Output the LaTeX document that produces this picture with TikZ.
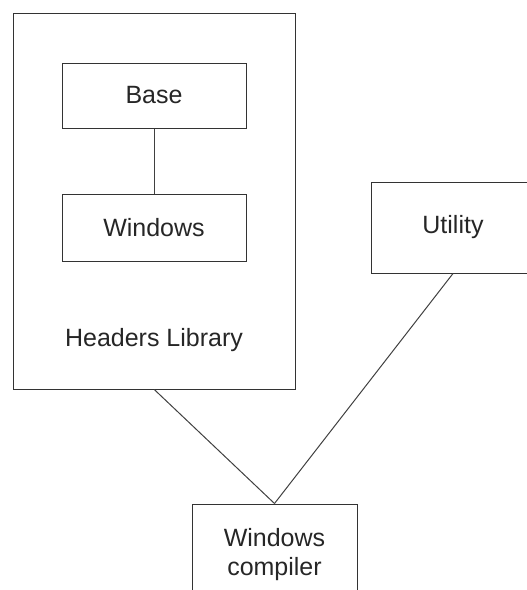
\documentclass[tikz,border=0pt]{standalone}
\usepackage{fontspec}
\setmainfont{Liberation Sans}
\usetikzlibrary{positioning}

\tikzset{
  blk/.style={draw=black!80, line width=1pt, rectangle, align=center,
    font=\fontsize{25}{29}\selectfont, text=black!85},
  lnk/.style={draw=black!75, line width=1pt}
}

\begin{document}
\begin{tikzpicture}[x=1pt, y=-1pt]
\clip (0,0) rectangle (527,590);
\node[blk, minimum width=282pt, minimum height=376pt] (hdrlib) at (154.25,201) {};
\node[blk, draw=none] (hdrname) at (154,340) {Headers Library};
\node[blk, minimum width=184pt, minimum height=65pt] (base) at (154,95.5) {Base};
\node[blk, minimum width=184pt, minimum height=67pt] (win) at (154,227.5) {Windows};
\node[blk, minimum width=164pt, minimum height=91pt] (util) at (453,227.5) {Utility};
\node[blk, minimum width=165pt, minimum height=102pt] (wincomp) at (274.5,555) {Windows\\compiler};
\draw[lnk] (base) -- (win);
\draw[lnk] (hdrlib.south) -- (wincomp.north);
\draw[lnk] (util.south) -- (wincomp.north);
\end{tikzpicture}
\end{document}
